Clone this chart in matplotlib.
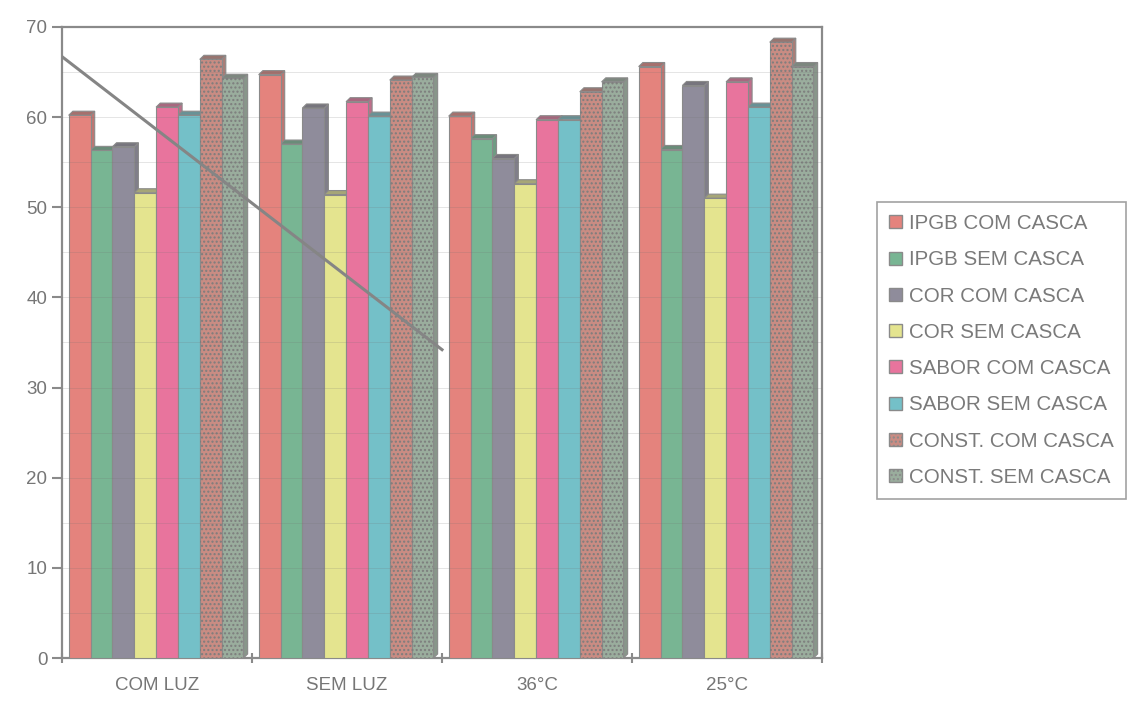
import numpy as np
import matplotlib.pyplot as plt
from matplotlib.patches import Patch
from matplotlib.colors import to_rgb

plt.rcParams['font.family'] = ['Liberation Sans', 'DejaVu Sans']

grupos = ['COM LUZ', 'SEM LUZ', '36°C', '25°C']
series = ['IPGB COM CASCA', 'IPGB SEM CASCA', 'COR COM CASCA', 'COR SEM CASCA',
          'SABOR COM CASCA', 'SABOR SEM CASCA', 'CONST. COM CASCA', 'CONST. SEM CASCA']

ipgb_com = [60.2, 64.7, 60.1, 65.6]
ipgb_sem = [56.3, 57.0, 57.6, 56.4]
cor_com = [56.7, 61.0, 55.4, 63.5]
cor_sem = [51.6, 51.4, 52.6, 51.0]
sabor_com = [61.1, 61.7, 59.7, 63.9]
sabor_sem = [60.2, 60.1, 59.7, 61.1]
const_com = [66.4, 64.1, 62.8, 68.3]
const_sem = [64.3, 64.4, 63.9, 65.6]

# linha diagonal (tendencia) desenhada por cima das barras
linha_x = [-0.5, 1.5]
linha_y = [66.7, 34.2]

cores = ['#e4837d', '#78b593', '#8f8c9b', '#e4e48f',
         '#e8749d', '#74c0c8', '#c98c83', '#9aad9d']
hachura = ['', '', '', '', '', '', '....', '....']

valores = [ipgb_com, ipgb_sem, cor_com, cor_sem,
           sabor_com, sabor_sem, const_com, const_sem]


def escurece(c, f=0.72):
    r, g, b = to_rgb(c)
    return (r * f + 0.35 * (1 - f), g * f + 0.35 * (1 - f), b * f + 0.35 * (1 - f))


fig = plt.figure(figsize=(11.36, 7.08), dpi=100)
ax = fig.add_axes([0.0546, 0.0706, 0.669, 0.8914])

largura = 0.115
x = np.arange(len(grupos))
dx, dy = 0.022, 0.45  # profundidade do efeito 3D
borda = '#8a8a8a'

for j, vals in enumerate(valores):
    pos = x - 0.465 + largura * j
    for xi, v in zip(pos, vals):
        # face lateral e topo
        ax.fill([xi + largura, xi + largura + dx, xi + largura + dx, xi + largura],
                [0, dy, v + dy, v], color=escurece(cores[j]), ec=borda, lw=0.8, zorder=2)
        ax.fill([xi, xi + dx, xi + largura + dx, xi + largura],
                [v, v + dy, v + dy, v], color=escurece(cores[j], 0.55), ec=borda, lw=0.8, zorder=2)
    ax.bar(pos, vals, width=largura, align='edge', color=cores[j],
           edgecolor=borda, linewidth=0.8, zorder=3)
    if hachura[j]:
        ax.bar(pos, vals, width=largura, align='edge', color='none',
               hatch=hachura[j], edgecolor='#7d7d7d', linewidth=0, zorder=3)

# listras horizontais suaves sobre as barras
for yy in np.arange(5, 70, 5):
    ax.axhline(yy, color='#707070', lw=0.5, alpha=0.25, zorder=4)

ax.plot(linha_x, linha_y, color='#858585', lw=2.2, zorder=5)

ax.set_xlim(-0.5, 3.5)
ax.set_ylim(0, 70)
ax.set_yticks(range(0, 71, 10))
ax.set_xticks(x)
ax.set_xticklabels(grupos)
ax.set_xticks(np.arange(-0.5, 3.6, 1), minor=True)
ax.tick_params(axis='x', which='major', length=0, pad=14, labelsize=13.5, labelcolor='#767676')
ax.tick_params(axis='x', which='minor', length=7, width=1.5, color='#8a8a8a', direction='inout')
ax.tick_params(axis='y', length=7, width=1.5, color='#8a8a8a', labelsize=13.5, labelcolor='#767676')
for s in ax.spines.values():
    s.set_color('#8a8a8a')
    s.set_linewidth(1.6)

handles = [Patch(facecolor=c, edgecolor=borda, hatch=h) for c, h in zip(cores, hachura)]
leg = fig.legend(handles, series, loc='upper left', bbox_to_anchor=(0.772, 0.715),
                 borderaxespad=0, frameon=True, fancybox=False, fontsize=14.8,
                 labelcolor='#7a7a7a', handlelength=0.6, handleheight=0.6,
                 handletextpad=0.35, labelspacing=0.84, borderpad=0.6,
                 edgecolor='#8a8a8a')
leg.get_frame().set_linewidth(1.2)

fig.savefig('out.png', dpi=100)
